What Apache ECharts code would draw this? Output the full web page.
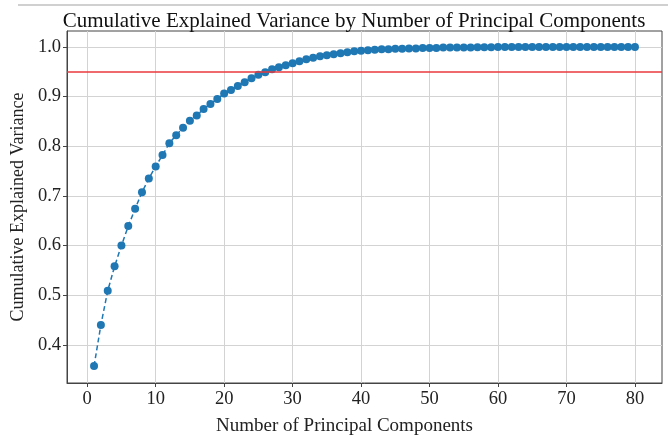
<!DOCTYPE html>
<html>
<head>
<meta charset="utf-8">
<script src="https://cdn.jsdelivr.net/npm/echarts@6/dist/echarts.min.js"></script>
<style>html,body{margin:0;padding:0;background:#fff;}#c{width:668px;height:435px;}</style>
</head>
<body>
<div id="c"></div>
<script>
const components = Array.from({length: 80}, (_, i) => i + 1);
const cumulativeVariance = [
  0.357, 0.440, 0.509, 0.558, 0.600, 0.639, 0.674, 0.707, 0.735, 0.759,
  0.782, 0.806, 0.822, 0.837, 0.851, 0.862, 0.875, 0.885, 0.895, 0.906,
  0.913, 0.921, 0.929, 0.937, 0.944, 0.949, 0.955, 0.959, 0.963, 0.967,
  0.971, 0.975, 0.978, 0.981, 0.983, 0.985, 0.987, 0.989, 0.991, 0.992,
  0.993, 0.994, 0.995, 0.995, 0.996, 0.996, 0.997, 0.997, 0.998, 0.998,
  0.998, 0.999, 0.999, 0.999, 0.999, 0.999, 0.9995, 0.9995, 0.9995, 0.9997,
  0.9997, 0.9998, 0.9998, 0.9998, 0.9999, 0.9999, 0.9999, 0.9999, 1.0, 1.0,
  1.0, 1.0, 1.0, 1.0, 1.0, 1.0, 1.0, 1.0, 1.0, 1.0
];
const threshold = 0.95;
const xTicks = [0, 10, 20, 30, 40, 50, 60, 70, 80];
const yTicks = [0.4, 0.5, 0.6, 0.7, 0.8, 0.9, 1.0];

const font = 'Liberation Serif';
const chart = echarts.init(document.getElementById('c'), null, {renderer: 'canvas'});
chart.setOption({
  animation: false,
  backgroundColor: '#fff',
  title: {
    text: 'Cumulative Explained Variance by Number of Principal Components',
    left: 349, top: 6, textAlign: 'center',
    textStyle: {fontFamily: font, fontSize: 21, fontWeight: 'normal', color: '#111'}
  },
  graphic: [{type: 'rect', shape: {x: 18, y: 4, width: 650, height: 2}, style: {fill: '#d0d0d0'}, silent: true}],
  grid: {left: 67, right: 6, top: 31, bottom: 52, show: true, borderColor: '#444', borderWidth: 1,
    outerBoundsMode: 'none', containLabel: false},
  xAxis: {
    type: 'value', min: -2.95, max: 83.95,
    name: 'Number of Principal Components', nameLocation: 'middle', nameGap: 34,
    nameTextStyle: {fontFamily: font, fontSize: 19, color: '#222', padding: [0, 40, 0, 0]},
    axisLine: {show: true, onZero: false, lineStyle: {color: '#444'}},
    axisTick: {show: true, customValues: xTicks, length: 4, lineStyle: {color: '#444'}},
    axisLabel: {customValues: xTicks, fontFamily: font, fontSize: 18.5, color: '#222', margin: 7},
    splitLine: {show: true, lineStyle: {color: '#d3d3d3', width: 1}}
  },
  yAxis: {
    type: 'value', min: 0.323, max: 1.032,
    name: 'Cumulative Explained Variance', nameLocation: 'middle', nameGap: 39,
    nameTextStyle: {fontFamily: font, fontSize: 18, color: '#222'},
    axisLine: {show: true, onZero: false, lineStyle: {color: '#444'}},
    axisTick: {show: true, customValues: yTicks, length: 4, lineStyle: {color: '#444'}},
    axisLabel: {customValues: yTicks, fontFamily: font, fontSize: 18.5, color: '#222', margin: 6,
      formatter: v => v.toFixed(1)},
    splitLine: {show: true, lineStyle: {color: '#d3d3d3', width: 1}}
  },
  series: [{
    type: 'line',
    data: components.map((c, i) => [c, cumulativeVariance[i]]),
    symbol: 'circle', symbolSize: 8,
    itemStyle: {color: '#1f77b4'},
    lineStyle: {color: '#1f77b4', width: 1.5, type: [5, 3]},
    z: 3,
    markLine: {
      silent: true, symbol: ['none', 'none'], label: {show: false},
      lineStyle: {color: '#e8383b', width: 1.5, type: 'solid'},
      data: [{yAxis: threshold}]
    }
  }]
});
</script>
</body>
</html>
